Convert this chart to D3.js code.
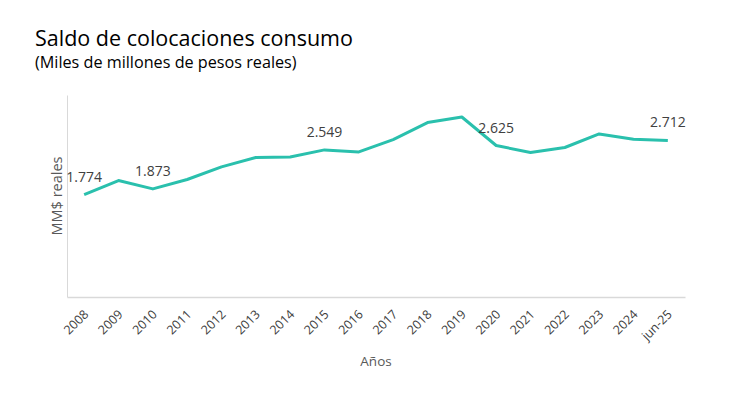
<!DOCTYPE html>
<html>
<head>
<meta charset="utf-8">
<script src="https://cdn.jsdelivr.net/npm/d3@7"></script>
<style>
  html, body { margin: 0; padding: 0; background: #fff; }
  svg { display: block; font-family: "Open Sans", "Noto Sans", sans-serif; }
</style>
</head>
<body>
<svg id="chart" width="735" height="397"></svg>
<script>
const categories = ["2008","2009","2010","2011","2012","2013","2014","2015","2016","2017","2018","2019","2020","2021","2022","2023","2024","jun-25"];
const values = [1774, 2018, 1873, 2036, 2254, 2417, 2427, 2549, 2514, 2728, 3022, 3119, 2625, 2503, 2590, 2825, 2733, 2712];
const labeledCategories = ["2008","2010","2015","2020","jun-25"];
const yDomain = [0, 3500];

const title = "Saldo de colocaciones consumo";
const subtitle = "(Miles de millones de pesos reales)";
const yTitle = "MM$ reales";
const xTitle = "Años";

const svg = d3.select("#chart");
const margin = { left: 67, right: 50, top: 95, bottom: 100 };
const W = 735, H = 397;
const plotW = W - margin.left - margin.right;
const plotH = H - margin.top - margin.bottom;

const x = d3.scaleBand().domain(categories).range([margin.left, margin.left + plotW]).padding(0);
const y = d3.scaleLinear().domain(yDomain).range([margin.top + plotH, margin.top]);

const fmt = v => d3.format(",")(v).replace(/,/g, ".");

// title
svg.append("text").attr("x", 35).attr("y", 46).attr("font-size", 21.5).attr("fill", "#000").text(title);
svg.append("text").attr("x", 35).attr("y", 68).attr("font-size", 16.2).attr("fill", "#000").text(subtitle);

// y axis line
const yAxis = d3.axisLeft(y).tickValues([]).tickSize(0);
svg.append("g").attr("transform", `translate(${margin.left},0)`).call(yAxis)
  .call(g => g.select(".domain").attr("stroke", "#d9d9d9").attr("stroke-width", 1));

// x axis
const xAxis = d3.axisBottom(x).tickSize(0).tickPadding(0);
const xg = svg.append("g").attr("transform", `translate(0,${margin.top + plotH})`).call(xAxis);
xg.select(".domain").attr("stroke", "#d9d9d9").attr("stroke-width", 1.5);
xg.selectAll(".tick text")
  .attr("font-family", "'Open Sans', sans-serif")
  .attr("font-size", 12.5)
  .attr("fill", "#404040")
  .attr("text-anchor", "end")
  .attr("dy", "0.35em")
  .attr("y", 0)
  .attr("transform", "translate(2,15) rotate(-45)");

// line
const line = d3.line()
  .x((d, i) => x(categories[i]) + x.bandwidth() / 2)
  .y(d => y(d));
svg.append("path").datum(values)
  .attr("fill", "none")
  .attr("stroke", "#2ac0ad")
  .attr("stroke-width", 3)
  .attr("stroke-linejoin", "round")
  .attr("d", line);

// data labels
svg.append("g").selectAll("text")
  .data(categories.map((c, i) => ({ c, v: values[i] })).filter(d => labeledCategories.includes(d.c)))
  .join("text")
  .attr("x", d => x(d.c) + x.bandwidth() / 2)
  .attr("y", d => y(d.v) - 13)
  .attr("text-anchor", "middle")
  .attr("font-size", 14)
  .attr("fill", "#404040")
  .text(d => fmt(d.v));

// axis titles
svg.append("text")
  .attr("transform", `translate(62,${margin.top + plotH / 2}) rotate(-90)`)
  .attr("text-anchor", "middle")
  .attr("font-size", 14.5)
  .attr("fill", "#595959")
  .text(yTitle);

svg.append("text")
  .attr("x", margin.left + plotW / 2)
  .attr("y", 366)
  .attr("text-anchor", "middle")
  .attr("font-size", 13.5)
  .attr("fill", "#595959")
  .text(xTitle);
</script>
</body>
</html>
